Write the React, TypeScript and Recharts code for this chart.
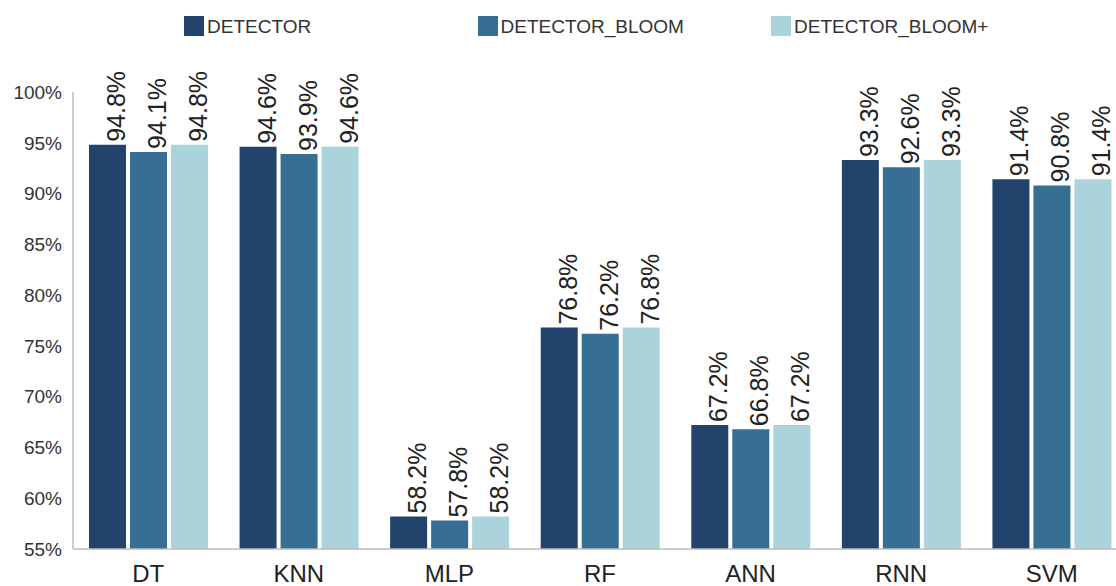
import React from 'react';
import { BarChart, Bar, XAxis, YAxis, Legend } from 'recharts';

const models = ['DT', 'KNN', 'MLP', 'RF', 'ANN', 'RNN', 'SVM'];
const detector = [94.8, 94.6, 58.2, 76.8, 67.2, 93.3, 91.4];
const detectorBloom = [94.1, 93.9, 57.8, 76.2, 66.8, 92.6, 90.8];
const detectorBloomPlus = [94.8, 94.6, 58.2, 76.8, 67.2, 93.3, 91.4];
const yTicks = [55, 60, 65, 70, 75, 80, 85, 90, 95, 100];

const series = [
  { key: 'DETECTOR', color: '#22436c' },
  { key: 'DETECTOR_BLOOM', color: '#376e93' },
  { key: 'DETECTOR_BLOOM+', color: '#abd3db' },
];

const data = models.map((name, i) => ({
  name,
  DETECTOR: detector[i],
  DETECTOR_BLOOM: detectorBloom[i],
  'DETECTOR_BLOOM+': detectorBloomPlus[i],
}));

const FONT = '"Liberation Sans", Arial, sans-serif';

// vertical value label sitting on top of each bar, reading bottom-to-top
const renderValueLabel = (props: any) => {
  const { x, y, width, value } = props;
  const px = Number(x) + Number(width) - 1;
  const py = Number(y) - 3;
  return (
    <text
      x={px}
      y={py}
      transform={`rotate(-90, ${px}, ${py})`}
      textAnchor="start"
      fontSize={25}
      fill="#222"
      fontFamily={FONT}
    >
      {Number(value).toFixed(1)}%
    </text>
  );
};

const renderLegend = () => (
  <div style={{ display: 'flex', paddingLeft: 184, height: 82, paddingTop: 6, boxSizing: 'border-box' }}>
    {series.map((s) => (
      <div key={s.key} style={{ width: 293.5, display: 'flex', alignItems: 'flex-start' }}>
        <span style={{ width: 20, height: 20, background: s.color, display: 'inline-block' }} />
        <span style={{ fontSize: 19, color: '#333', marginLeft: 3, lineHeight: '21px', fontFamily: FONT }}>
          {s.key}
        </span>
      </div>
    ))}
  </div>
);

export default function App() {
  return (
    <div
      style={{
        position: 'fixed',
        left: 0,
        top: 0,
        width: 1116,
        height: 586,
        overflow: 'hidden',
        background: '#fff',
        fontFamily: FONT,
      }}
    >
      <BarChart
        width={1130}
        height={586}
        data={data}
        margin={{ top: 10, right: 3, bottom: 0, left: 0 }}
        barSize={37}
        barGap={4}
      >
        <Legend
          verticalAlign="top"
          content={renderLegend}
          wrapperStyle={{ left: 0, top: 10, width: 1116 }}
        />
        <XAxis
          dataKey="name"
          height={37}
          tickSize={0}
          tickMargin={16}
          axisLine={{ stroke: '#bdbdbd', strokeWidth: 1.5 }}
          tick={{ fontSize: 24, fill: '#222', fontFamily: FONT }}
          interval={0}
        />
        <YAxis
          width={73}
          domain={[55, 100]}
          ticks={yTicks}
          tickSize={0}
          tickMargin={11}
          axisLine={{ stroke: '#bdbdbd', strokeWidth: 1.5 }}
          tickFormatter={(v: number) => `${v}%`}
          tick={{ fontSize: 19, fill: '#333', fontFamily: FONT }}
          allowDataOverflow
        />
        {series.map((s) => (
          <Bar
            key={s.key}
            dataKey={s.key}
            fill={s.color}
            isAnimationActive={false}
            label={renderValueLabel}
          />
        ))}
      </BarChart>
    </div>
  );
}
